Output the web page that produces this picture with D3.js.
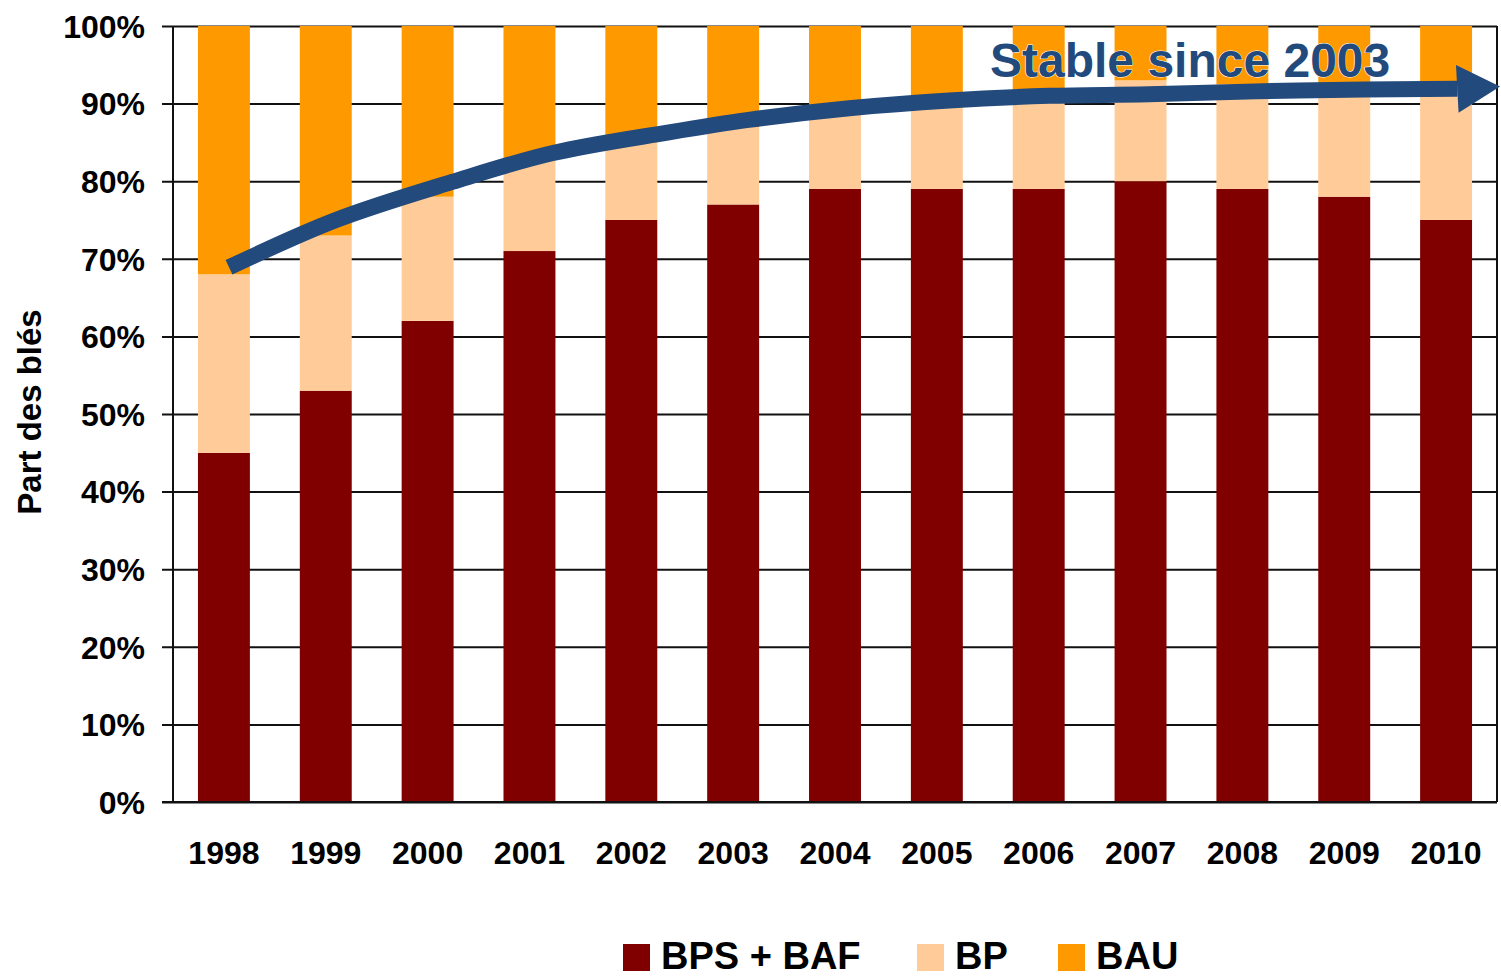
<!DOCTYPE html>
<html>
<head>
<meta charset="utf-8">
<script src="https://cdn.jsdelivr.net/npm/d3@7"></script>
<style>
  html, body { margin: 0; padding: 0; background: #fff; }
  svg { display: block; font-family: "Liberation Sans", Arial, sans-serif; font-weight: bold; }
</style>
</head>
<body>
<svg id="chart" width="1501" height="977"></svg>
<script>
// ---- data ----
const years = ["1998","1999","2000","2001","2002","2003","2004","2005","2006","2007","2008","2009","2010"];
const bpsBaf = [45, 53, 62, 71, 75, 77, 79, 79, 79, 80, 79, 78, 75];
const bp     = [23, 20, 16, 12, 10, 10, 10, 11, 12, 13, 13.5, 14, 16];
const bau    = [32, 27, 22, 17, 15, 13, 11, 10, 9, 7, 7.5, 8, 9];
const seriesNames = ["BPS + BAF", "BP", "BAU"];
const yTicks = [0, 10, 20, 30, 40, 50, 60, 70, 80, 90, 100];
const yTitle = "Part des blés";
const annotation = "Stable since 2003";
// arrow path in data space: [year position, percent]
const arrowYear = [1998.05, 1999.10, 2000.24, 2001.22, 2002.37, 2003.15, 2004.14, 2005.12, 2006.10, 2007.08, 2008.55, 2010.11];
const arrowPct  = [68.9, 75.0, 79.9, 83.6, 86.3, 87.9, 89.4, 90.4, 91.0, 91.2, 91.7, 91.9];
const arrowTip  = [2010.53, 92.2];

// ---- layout ----
const colors = ["#800000", "#ffcc99", "#ff9900"];
const arrowColor = "#224a7c";
const L = 173, R = 1497, T = 26, B = 802;

const svg = d3.select("#chart");

const x = d3.scaleBand().domain(years).range([L, R]).paddingInner(0.49).paddingOuter(0.245);
const y = d3.scaleLinear().domain([0, 100]).range([B, T]);
const xc = d3.scaleLinear()
  .domain([+years[0], +years[years.length - 1]])
  .range([x(years[0]) + x.bandwidth() / 2, x(years[years.length - 1]) + x.bandwidth() / 2]);

// gridlines + y ticks
const yAxis = d3.axisLeft(y).tickValues(yTicks).tickSize(-(R - L)).tickSizeOuter(0).tickFormat(d => d + "%");
const gy = svg.append("g").attr("transform", `translate(${L},0)`).call(yAxis);
gy.select(".domain").remove();
gy.selectAll(".tick line").attr("stroke", "#111").attr("stroke-width", 2).attr("x1", -11);
gy.selectAll(".tick text").attr("x", -28).attr("dy", "0.35em")
  .style("font-size", "32px").style("font-weight", "bold").style("font-family", "'Liberation Sans', Arial, sans-serif").attr("fill", "#000");

// stacked bars
const data = years.map((yr, i) => ({ year: yr, a: bpsBaf[i], b: bp[i], c: bau[i] }));
const stack = d3.stack().keys(["a", "b", "c"])(data);
svg.append("g").selectAll("g").data(stack).join("g")
  .attr("fill", (d, i) => colors[i])
  .selectAll("rect").data(d => d).join("rect")
  .attr("x", d => x(d.data.year))
  .attr("width", x.bandwidth())
  .attr("y", d => y(Math.min(100, d[1])))
  .attr("height", d => y(d[0]) - y(Math.min(100, d[1])));

// frame: left axis, bottom axis, right border
svg.append("line").attr("x1", L).attr("x2", L).attr("y1", T).attr("y2", B).attr("stroke", "#111").attr("stroke-width", 2);
svg.append("line").attr("x1", R).attr("x2", R).attr("y1", T).attr("y2", B).attr("stroke", "#111").attr("stroke-width", 2);
svg.append("line").attr("x1", L - 11).attr("x2", R).attr("y1", B).attr("y2", B).attr("stroke", "#111").attr("stroke-width", 2);

// x labels
const xAxis = d3.axisBottom(x).tickSize(0).tickSizeOuter(0);
const gx = svg.append("g").attr("transform", `translate(0,${B})`).call(xAxis);
gx.select(".domain").remove();
gx.selectAll(".tick text").attr("y", 0).attr("dy", "62px")
  .style("font-size", "32px").style("font-weight", "bold").style("font-family", "'Liberation Sans', Arial, sans-serif").attr("fill", "#000");

// y title
svg.append("text")
  .attr("transform", `translate(41,${(308 + 516) / 2}) rotate(-90)`)
  .attr("text-anchor", "middle")
  .style("font-size", "33px")
  .text(yTitle);

// arrow
const arrowPts = arrowYear.map((v, i) => [xc(v), y(arrowPct[i])]);
svg.append("path")
  .attr("d", d3.line().curve(d3.curveCatmullRom.alpha(0.5))(arrowPts))
  .attr("fill", "none").attr("stroke", arrowColor).attr("stroke-width", 16);
const last = arrowPts[arrowPts.length - 1];
const tip = [xc(arrowTip[0]), y(arrowTip[1])];
const ang = Math.atan2(tip[1] - last[1], tip[0] - last[0]);
const hw = 24;
const head = [
  [last[0] + hw * Math.sin(ang), last[1] - hw * Math.cos(ang)],
  tip,
  [last[0] - hw * Math.sin(ang), last[1] + hw * Math.cos(ang)]
];
svg.append("path").attr("d", "M" + head.join("L") + "Z").attr("fill", arrowColor);

// annotation
svg.append("text").attr("x", 990).attr("y", 77)
  .style("font-size", "48px").attr("fill", arrowColor)
  .attr("stroke", "#ffffff").attr("stroke-width", 1).attr("paint-order", "stroke")
  .text(annotation);

// legend
const legendX = [623, 917, 1058];
const lg = svg.append("g");
seriesNames.forEach((name, i) => {
  lg.append("rect").attr("x", legendX[i]).attr("y", 944).attr("width", 27).attr("height", 27).attr("fill", colors[i]);
  lg.append("text").attr("x", legendX[i] + 38).attr("y", 969)
    .style("font-size", "38px").attr("fill", "#000").text(name);
});
</script>
</body>
</html>
